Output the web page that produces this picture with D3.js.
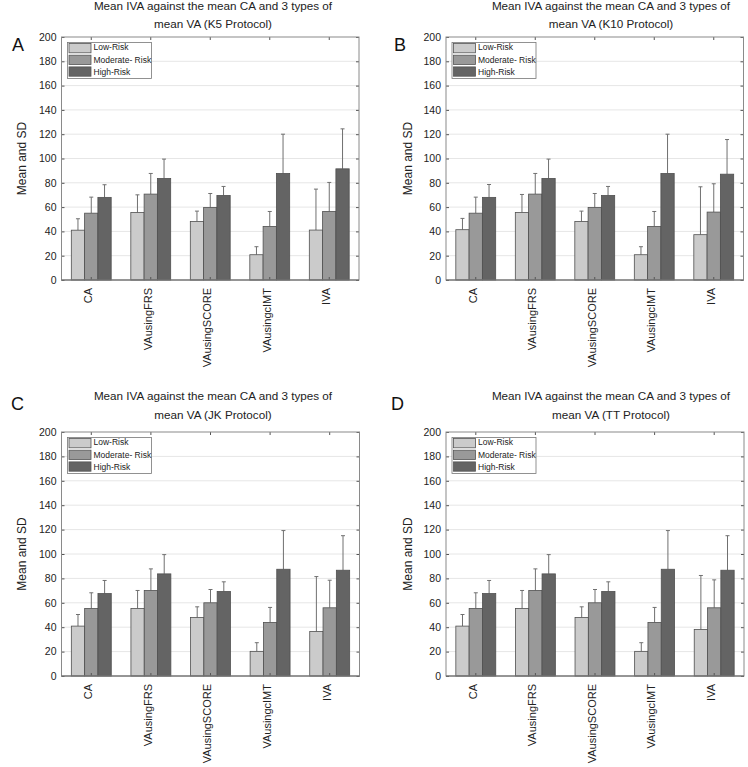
<!DOCTYPE html>
<html>
<head>
<meta charset="utf-8">
<script src="https://cdn.jsdelivr.net/npm/d3@7"></script>
<style>
  html, body { margin: 0; padding: 0; background: #fff; }
  text { font-family: "Liberation Sans", Arial, Helvetica, sans-serif; fill: #222; }
</style>
</head>
<body>
<svg id="chart" width="748" height="767"></svg>
<script>
// ---------- data ----------
const categories = ["CA", "VAusingFRS", "VAusingSCORE", "VAusingcIMT", "IVA"];
const seriesNames = ["Low-Risk", "Moderate- Risk", "High-Risk"];
const yTicks = [0, 20, 40, 60, 80, 100, 120, 140, 160, 180, 200];

// Panel A: K5 protocol (means and SDs)
const lowK5 = [41.0, 55.6, 48.2, 20.8, 41.1];
const modK5 = [55.0, 70.7, 59.7, 44.1, 56.4];
const highK5 = [68.0, 83.6, 69.6, 87.7, 91.5];
const lowSdK5 = [9.4, 14.5, 8.5, 6.6, 33.7];
const modSdK5 = [13.2, 17.0, 11.5, 12.3, 23.9];
const highSdK5 = [10.4, 15.9, 7.4, 32.3, 32.9];

// Panel B: K10 protocol
const lowK10 = [41.4, 55.6, 48.2, 20.8, 37.3];
const modK10 = [55.0, 70.7, 59.7, 44.1, 55.9];
const highK10 = [68.0, 83.6, 69.6, 87.7, 87.1];
const lowSdK10 = [9.3, 14.8, 8.5, 6.6, 39.4];
const modSdK10 = [13.2, 17.0, 11.5, 12.3, 23.3];
const highSdK10 = [10.6, 15.9, 7.4, 32.3, 28.5];

// Panel C: JK protocol
const lowJK = [40.9, 55.4, 48.0, 20.2, 36.5];
const modJK = [55.4, 70.1, 60.0, 43.9, 55.9];
const highJK = [67.6, 83.7, 69.3, 87.5, 86.7];
const lowSdJK = [9.5, 14.7, 8.7, 7.1, 45.0];
const modSdJK = [12.8, 17.7, 10.9, 12.3, 22.6];
const highSdJK = [10.7, 15.8, 7.9, 31.7, 28.3];

// Panel D: TT protocol
const lowTT = [40.9, 55.4, 48.0, 20.2, 38.2];
const modTT = [55.4, 70.1, 60.0, 43.9, 55.9];
const highTT = [67.6, 83.7, 69.3, 87.5, 86.7];
const lowSdTT = [9.5, 14.7, 8.7, 7.1, 44.2];
const modSdTT = [12.8, 17.7, 10.9, 12.3, 22.9];
const highSdTT = [10.7, 15.8, 7.9, 31.7, 28.3];

// ---------- styling ----------
const fills = ["#cbcbcb", "#999999", "#646464"];
const svg = d3.select("#chart");
svg.append("rect").attr("width", 748).attr("height", 767).attr("fill", "#fff");

const panels = [
  { letter: "A", protocol: "K5", means: [lowK5, modK5, highK5], sds: [lowSdK5, modSdK5, highSdK5],
    left: 61.5, right: 359, top: 37, bottom: 280, titleX: 213, t1: 10, t2: 27.5, letterX: 12, letterY: 51, ylabX: 22 },
  { letter: "B", protocol: "K10", means: [lowK10, modK10, highK10], sds: [lowSdK10, modSdK10, highSdK10],
    left: 446, right: 743.5, top: 37, bottom: 280, titleX: 611, t1: 10, t2: 27.5, letterX: 394, letterY: 51, ylabX: 408 },
  { letter: "C", protocol: "JK", means: [lowJK, modJK, highJK], sds: [lowSdJK, modSdJK, highSdJK],
    left: 61.5, right: 359.5, top: 432, bottom: 676, titleX: 213, t1: 400, t2: 418.5, letterX: 11, letterY: 410, ylabX: 22 },
  { letter: "D", protocol: "TT", means: [lowTT, modTT, highTT], sds: [lowSdTT, modSdTT, highSdTT],
    left: 446, right: 744, top: 432, bottom: 676, titleX: 611, t1: 400, t2: 418.5, letterX: 391, letterY: 410, ylabX: 408 }
];

panels.forEach(drawPanel);

function drawPanel(p) {
  const g = svg.append("g");
  const y = d3.scaleLinear().domain([0, 200]).range([p.bottom, p.top]);
  const x0 = d3.scaleBand().domain(categories).range([p.left, p.right])
    .paddingInner(0.33).paddingOuter(0.165);
  const x1 = d3.scaleBand().domain(seriesNames).range([0, x0.bandwidth()]);

  // grid
  g.append("g").selectAll("line").data(yTicks.filter(t => t > 0 && t < 200)).join("line")
    .attr("x1", p.left).attr("x2", p.right)
    .attr("y1", d => y(d)).attr("y2", d => y(d))
    .attr("stroke", "#e6e6e6").attr("stroke-width", 1);

  // bars
  const rows = [];
  categories.forEach((c, i) => seriesNames.forEach((s, j) => {
    rows.push({ c, s, j, m: p.means[j][i], sd: p.sds[j][i] });
  }));

  // error bars (upper only)
  const eb = g.append("g").attr("stroke", "#707070").attr("stroke-width", 1);
  rows.forEach(r => {
    const cx = x0(r.c) + x1(r.s) + x1.bandwidth() / 2;
    eb.append("line").attr("x1", cx).attr("x2", cx).attr("y1", y(r.m)).attr("y2", y(r.m + r.sd));
    eb.append("line").attr("x1", cx - 2).attr("x2", cx + 2).attr("y1", y(r.m + r.sd)).attr("y2", y(r.m + r.sd));
  });

  g.append("g").selectAll("rect").data(rows).join("rect")
    .attr("x", d => x0(d.c) + x1(d.s))
    .attr("y", d => y(d.m))
    .attr("width", x1.bandwidth())
    .attr("height", d => y(0) - y(d.m))
    .attr("fill", d => fills[d.j])
    .attr("stroke", "#505050").attr("stroke-width", 0.8);

  // axes
  const styleAxis = sel => {
    sel.select(".domain").remove();
    sel.selectAll(".tick line").attr("stroke", "#555");
    sel.selectAll(".tick text").attr("fill", "#222");
  };
  g.append("g").attr("transform", `translate(${p.left},0)`)
    .call(d3.axisLeft(y).tickValues(yTicks).tickSize(-3).tickPadding(5))
    .call(styleAxis)
    .selectAll("text").style("font-size", "10.5px").style("font-family", "Liberation Sans, Arial, sans-serif");
  g.append("g").attr("transform", `translate(${p.right},0)`)
    .call(d3.axisRight(y).tickValues(yTicks).tickSize(-3).tickFormat(""))
    .call(styleAxis);
  g.append("g").attr("transform", `translate(0,${p.top})`)
    .call(d3.axisTop(x0).tickSize(-3).tickFormat(""))
    .call(styleAxis);
  const xb = g.append("g").attr("transform", `translate(0,${p.bottom})`)
    .call(d3.axisBottom(x0).tickSize(-3))
    .call(styleAxis);
  xb.selectAll(".tick text")
    .attr("transform", "rotate(-90)")
    .attr("x", -8).attr("y", -3).attr("dy", "0.35em")
    .attr("text-anchor", "end")
    .style("font-size", "11px").style("font-family", "Liberation Sans, Arial, sans-serif");

  // box
  g.append("rect").attr("x", p.left).attr("y", p.top)
    .attr("width", p.right - p.left).attr("height", p.bottom - p.top)
    .attr("fill", "none").attr("stroke", "#8a8a8a").attr("stroke-width", 1);
  g.append("line").attr("x1", p.left).attr("x2", p.right).attr("y1", p.bottom).attr("y2", p.bottom)
    .attr("stroke", "#666");

  // legend
  const lg = g.append("g").attr("transform", `translate(${p.left + 6},${p.top + 5.5})`);
  lg.append("rect").attr("width", 84).attr("height", 36).attr("fill", "#fff").attr("stroke", "#777").attr("stroke-width", 0.8);
  seriesNames.forEach((s, j) => {
    lg.append("rect").attr("x", 1.5).attr("y", 1 + j * 11.7).attr("width", 22).attr("height", 9.3)
      .attr("fill", fills[j]).attr("stroke", "#555").attr("stroke-width", 0.8);
    lg.append("text").attr("x", 26).attr("y", 1 + j * 11.7 + 4.6 - (j === 0 ? 1.5 : 0))
      .attr("dominant-baseline", "central").style("font-size", "8.5px").text(s);
  });

  // titles
  g.append("text").attr("x", p.titleX).attr("y", p.t1).attr("text-anchor", "middle")
    .style("font-size", "11.7px").text("Mean IVA against the mean CA and 3 types of");
  g.append("text").attr("x", p.titleX).attr("y", p.t2).attr("text-anchor", "middle")
    .style("font-size", "11.7px").text(`mean VA (${p.protocol} Protocol)`);

  // y label
  g.append("text").attr("transform", `translate(${p.ylabX},${(p.top + p.bottom) / 2}) rotate(-90)`)
    .attr("text-anchor", "middle").attr("dominant-baseline", "central")
    .style("font-size", "12px").text("Mean and SD");

  // panel letter
  g.append("text").attr("x", p.letterX).attr("y", p.letterY)
    .style("font-size", "18px").style("fill", "#111").text(p.letter);
}
</script>
</body>
</html>
